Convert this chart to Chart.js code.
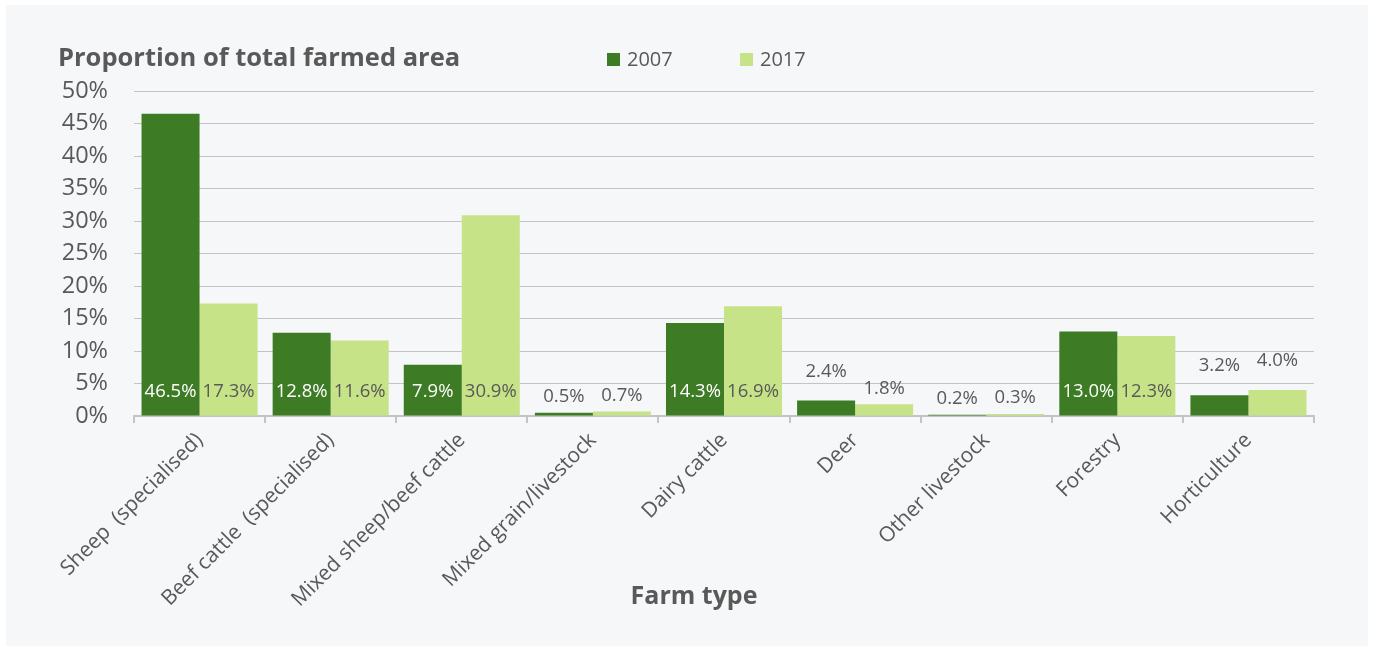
<!DOCTYPE html>
<html>
<head>
<meta charset="utf-8">
<title>Proportion of total farmed area</title>
<script src="https://cdn.jsdelivr.net/npm/chart.js@4"></script>
<style>
  html, body { margin: 0; padding: 0; background: #ffffff; }
  #panel { position: absolute; left: 6px; top: 5px; width: 1362px; height: 641px; background: #f6f7f9; }
  #wrap { position: absolute; left: 0; top: 0; width: 1373px; height: 646px; }
</style>
</head>
<body>
<div id="panel"></div>
<div id="wrap"><canvas id="farmChart" width="1373" height="646"></canvas></div>
<script>
// Farm types and share of total farmed area (%)
const farmTypes = ['Sheep  (specialised)', 'Beef cattle  (specialised)', 'Mixed sheep/beef cattle',
  'Mixed grain/livestock', 'Dairy cattle', 'Deer', 'Other livestock', 'Forestry', 'Horticulture'];
const share2007 = [46.5, 12.8, 7.9, 0.5, 14.3, 2.4, 0.2, 13.0, 3.2];
const share2017 = [17.3, 11.6, 30.9, 0.7, 16.9, 1.8, 0.3, 12.3, 4.0];
const seriesNames = ['2007', '2017'];

const DARK = '#3d7b25';
const LIGHT = '#c6e387';
const TEXT = '#595959';
const FONT = "'Open Sans', sans-serif";

// title, legend and the axis title sit around the plot
const headerPlugin = {
  id: 'header',
  afterDraw(chart) {
    const ctx = chart.ctx;
    ctx.save();
    ctx.textBaseline = 'middle';
    ctx.fillStyle = TEXT;
    ctx.font = "bold 25.5px " + FONT;
    ctx.textAlign = 'left';
    ctx.fillText('Proportion of total farmed area', 58, 59);

    const legendX = [607, 740];
    ctx.font = "20px " + FONT;
    chart.data.datasets.forEach((ds, i) => {
      ctx.fillStyle = ds.backgroundColor;
      ctx.fillRect(legendX[i], 53, 13, 13);
      ctx.fillStyle = TEXT;
      ctx.fillText(ds.label, legendX[i] + 20, 60);
    });

    ctx.font = "bold 25px " + FONT;
    ctx.textAlign = 'center';
    ctx.fillText('Farm type', 694, 597);
    ctx.restore();
  }
};

// value labels: inside the base for tall bars, above the bar for short ones
const valueLabels = {
  id: 'valueLabels',
  afterDatasetsDraw(chart) {
    const ctx = chart.ctx;
    ctx.save();
    ctx.font = "18.5px " + FONT;
    ctx.textAlign = 'center';
    ctx.textBaseline = 'middle';
    chart.data.datasets.forEach((ds, di) => {
      const meta = chart.getDatasetMeta(di);
      meta.data.forEach((bar, i) => {
        const v = ds.data[i];
        const txt = v.toFixed(1) + '%';
        let y;
        if (v >= 7) {
          y = bar.base - 24;
          ctx.fillStyle = di === 0 ? '#ffffff' : TEXT;
        } else {
          y = bar.y - (v >= 2 ? 29 : 16);
          ctx.fillStyle = TEXT;
        }
        ctx.fillText(txt, bar.x, y);
      });
    });
    ctx.restore();
  }
};

new Chart(document.getElementById('farmChart').getContext('2d'), {
  type: 'bar',
  data: {
    labels: farmTypes,
    datasets: [
      { label: seriesNames[0], data: share2007, backgroundColor: DARK, categoryPercentage: 0.885, barPercentage: 1.0 },
      { label: seriesNames[1], data: share2017, backgroundColor: LIGHT, categoryPercentage: 0.885, barPercentage: 1.0 }
    ]
  },
  options: {
    responsive: false,
    animation: false,
    layout: { padding: { left: 6, right: 59, top: 91, bottom: 0 } },
    plugins: {
      legend: { display: false },
      title: { display: false },
      tooltip: { enabled: false }
    },
    scales: {
      x: {
        afterFit(scale) { scale.height = 230; },
        grid: { offset: true, drawOnChartArea: false, drawTicks: true, tickLength: 7, color: '#c4c4c4', lineWidth: 2 },
        border: { color: '#c4c4c4', width: 2 },
        ticks: {
          color: TEXT,
          font: { family: FONT, size: 21 },
          minRotation: 45,
          maxRotation: 45,
          autoSkip: false,
          padding: 5
        }
      },
      y: {
        min: 0,
        max: 50,
        afterFit(scale) { scale.width = 128; },
        grid: { color: '#c4c4c4', drawTicks: false },
        border: { display: false },
        ticks: {
          stepSize: 5,
          color: TEXT,
          font: { family: FONT, size: 23.5 },
          padding: 26,
          callback: v => v + '%'
        }
      }
    }
  },
  plugins: [valueLabels, headerPlugin]
});
</script>
</body>
</html>
